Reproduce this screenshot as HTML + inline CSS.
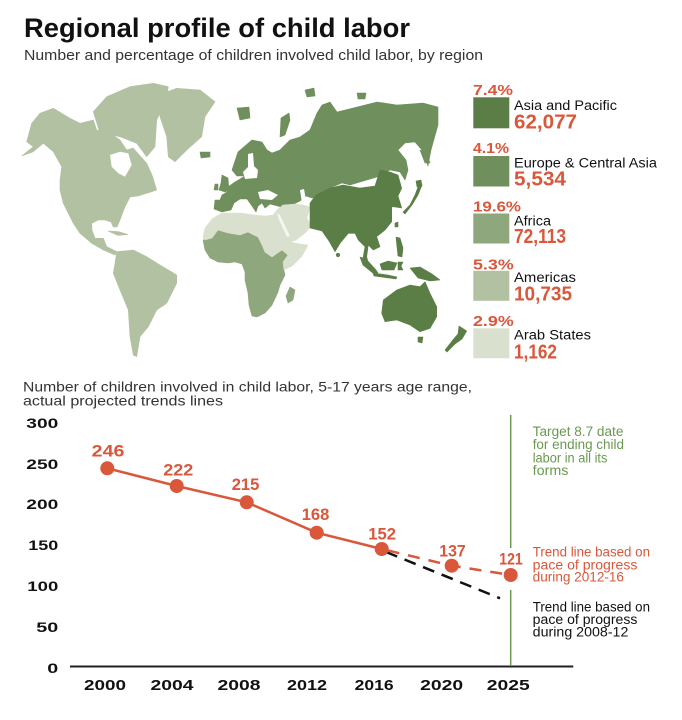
<!DOCTYPE html>
<html><head><meta charset="utf-8"><style>
html,body{margin:0;padding:0;background:#fff;}
svg{display:block;}
text{font-family:"Liberation Sans",sans-serif;}
</style></head><body>
<svg width="682" height="720" viewBox="0 0 682 720" xmlns="http://www.w3.org/2000/svg">
<rect width="682" height="720" fill="#fff"/>
<!-- Title -->
<text x="24" y="37" font-size="27" font-weight="bold" fill="#111" textLength="386" lengthAdjust="spacingAndGlyphs">Regional profile of child labor</text>
<text x="24" y="60" font-size="14.5" fill="#333" textLength="459" lengthAdjust="spacingAndGlyphs">Number and percentage of children involved child labor, by region</text>

<!-- MAP -->
<g stroke-linejoin="round">
<!-- Americas -->
<g fill="#b1c1a1" stroke="#b1c1a1" stroke-width="0.6">
<path d="M21.7,156 L33.3,146.7 L26.7,141.7 L31.7,123.3 L40,113.3 L53.3,108.3 L70,118.3 L80,123.3 L93.3,120 L96.7,130 L110,133.3 L120,140 L126.7,150 L133,148 L146.7,163.3 L152,175 L156.7,190 L151.7,191.7 L138,196 L130,197 L125,206.7 L120,220 L117,227 L113.3,227 L111,222 L105,220 L98.3,220 L91.7,223.3 L92,230 L95,238.3 L103.3,238.3 L106.7,246.7 L116.7,251.7 L115,255 L103.3,250 L91.7,243.3 L80,233.3 L73.3,223.3 L70,216.7 L63.3,203.3 L60,190 L60,180 L61.7,166.7 L53.3,151.7 L43.3,143.3 L33.3,151.7 Z"/>
<path d="M93.3,111.7 L106.7,96.7 L130,86.7 L153.3,83.3 L168.3,86.7 L166.7,100 L156.7,120 L155,146.7 L146.7,156.7 L136.7,143.3 L120,136.7 L100,133.3 Z"/>
<path d="M158.3,95 L176.7,88.3 L200,90 L215,101.7 L205,116.7 L201.7,136.7 L186.7,150 L175,161.7 L168.3,156.7 L166.7,136.7 L160,116.7 Z"/>
<path d="M108,231 L118,231.5 L128,234.5 L118,235.5 Z"/>
<path d="M116.7,251.7 L133.3,250 L146.7,256.7 L160,265 L176.7,275 L176.7,283.3 L166.7,303.3 L156.7,310 L148.3,326.7 L140,336.7 L136.7,356.7 L133.3,355 L130,336.7 L128.3,310 L120,290 L113.3,273.3 L115,263.3 Z"/>
</g>
<!-- Hudson Bay -->
<path d="M110,155 L120,151.7 L128.3,153.3 L131.7,165 L125,176.7 L118.3,173.3 L111.7,166.7 Z" fill="#fff"/>
<!-- Europe & Central Asia -->
<g fill="#6f8f5c" stroke="#6f8f5c" stroke-width="0.6">
<path d="M215,200 L214,209 L222,212 L231,210 L234,203 L240,199 L247,199 L252,206 L256,212 L258,206 L262,203 L265,208 L270,204 L285,208 L292,205 L300,201 L306,196 L312,198 L320,197 L330,188 L342,183 L350,185 L377,177 L390,170 L400,172 L405,180 L408,170 L406,160 L398,150 L405,143 L415,142 L422,150 L428,166 L431,150 L438,125 L438,107 L423,103 L397,105 L377,102 L357,107 L337,112 L330,102 L322,105 L317,113 L310,130 L300,137 L290,140 L280,150 L272,153 L267,150 L262,142 L252,140 L238,152 L232,170 L237,176 L245,176 L235,182 L228,187 L227,192 L222,195 L220,200 Z"/>
<path d="M222,175 L228,178 L229,190 L225,192 L219,190 L221,183 Z"/>
<path d="M215,184 L218,184 L218,190 L214,190 Z"/>
<path d="M200,152 L210,152 L210,157 L201,158 Z"/>
<path d="M237,108 L249,107 L250,118 L240,120 Z"/>
<path d="M281,118 L289,113 L290,120 L285,135 L280,137 Z"/>
<path d="M305,90 L314,88 L315,96 L307,97 Z"/>
<path d="M357,93 L366,93 L365,99 L358,99 Z"/>
<path d="M420,150 L426,152 L430,163 L425,163 Z"/>
</g>
<!-- Baltic & Black Sea -->
<path d="M248,154 L253,153 L254,166 L258,170 L257,178 L245,179 L243,172 L248,167 Z" fill="#fff"/>
<path d="M258,192 L268,190 L278,195 L272,200 L260,199 Z" fill="#fff"/>
<path d="M300,190 L304,189 L306,200 L302,203 Z" fill="#fff"/>
<!-- Sub-Saharan Africa -->
<g fill="#8fa77d" stroke="#8fa77d" stroke-width="0.6">
<path d="M203,240 L212,237 L218,230 L228,233 L240,235 L248,232 L258,237 L262,245 L265,252 L272,257 L276,254 L282,250 L288,255 L283,262 L284,270 L285,275 L280,285 L278,292 L272,305 L265,313 L257,317 L252,316 L249,305 L248,293 L245,280 L245,272 L242,264 L235,262 L228,263 L218,262 L210,258 L205,250 Z"/>
<path d="M290,287 L295,290 L293,300 L288,303 L286,296 Z"/>
</g>
<!-- Arab States -->
<g fill="#d9e0cd" stroke="#d9e0cd" stroke-width="0.6">
<path d="M203,237 L205,228 L212,219 L222,213 L240,213 L255,215 L265,216 L273,215 L277,210 L283,205 L295,204 L303,205 L310,207 L307,218 L311,226 L305,233 L296,240 L290,242 L300,244 L308,245 L302,256 L292,266 L284,270 L283,262 L288,255 L282,250 L276,254 L272,257 L265,252 L262,245 L258,237 L248,232 L240,235 L228,233 L218,230 L212,238 L205,240 Z"/>
</g>
<path d="M277,213 L280,215 L290,236 L287,237 L279,220 Z" fill="#fff" opacity="0.7"/>
<!-- Asia Pacific -->
<g fill="#5b7e46" stroke="#5b7e46" stroke-width="0.6">
<path d="M310,203 L316,195 L330,188 L343,185 L360,188 L375,186 L380,170 L390,172 L398,175 L401.7,188.3 L398,196 L401.7,208 L395,207 L391.7,206.7 L391.7,221.7 L385,230 L376.7,236.7 L380,246.7 L373.3,250 L368.3,245 L366.7,256.7 L368,262 L363,258 L365,246.7 L358.3,240 L355,233.3 L348.3,233.3 L340,243.3 L335,251.7 L329,241 L322,231 L310,228 Z"/>
<path d="M403,212 L410,205 L415,195 L418,187 L420,182 L422,185 L418,195 L412,205 L405,214 Z"/>
<path d="M416,181 L421,180 L422,186 L417,187 Z"/>
<path d="M395,223 L398,222 L398,227 L395,227 Z"/>
<path d="M396,237 L400,238 L403,248 L402,257 L398,256 L397,247 Z"/>
<path d="M360,257 L366,259 L376,270 L378,273 L374,274 L363,265 Z"/>
<path d="M373,273 L388,275 L397,277 L396,279 L374,276 Z"/>
<path d="M380,264 L388,261 L397,263 L394,270 L382,270 Z"/>
<path d="M398,262 L403,262 L401,266 L403,270 L398,270 Z"/>
<path d="M410,268 L420,267 L432,274 L440,280 L430,281 L418,278 Z"/>
<path d="M383.3,300 L396.7,290 L410,285 L420,286.7 L425,281.7 L430,293.3 L436.7,306.7 L436.7,316.7 L430,328.3 L420,331.7 L410,325 L396.7,320 L385,321.7 L381.7,313.3 Z"/>
<path d="M418,337 L423,337 L422,343 L418,342 Z"/>
<path d="M459,326 L466.7,331 L462,339 L455,344 L447,352 L445,350 L452,341 L458,334 Z"/>
<circle cx="338" cy="255" r="1.8"/>
</g>
</g>

<!-- LEGEND -->
<g>
<text x="473" y="95" font-size="15" font-weight="bold" fill="#d9573b" textLength="40" lengthAdjust="spacingAndGlyphs">7.4%</text>
<rect x="473.3" y="97.3" width="36" height="31" fill="#5b7e46"/>
<text x="514" y="110" font-size="13.5" fill="#111" textLength="103" lengthAdjust="spacingAndGlyphs">Asia and Pacific</text>
<text x="514" y="128.5" font-size="20" font-weight="bold" fill="#d9573b" textLength="63" lengthAdjust="spacingAndGlyphs">62,077</text>

<text x="473" y="153" font-size="15" font-weight="bold" fill="#d9573b" textLength="36" lengthAdjust="spacingAndGlyphs">4.1%</text>
<rect x="473.3" y="156" width="36" height="30.5" fill="#6f8f5c"/>
<text x="514" y="167.5" font-size="13.5" fill="#111" textLength="143" lengthAdjust="spacingAndGlyphs">Europe &amp; Central Asia</text>
<text x="514" y="185.5" font-size="20" font-weight="bold" fill="#d9573b" textLength="52" lengthAdjust="spacingAndGlyphs">5,534</text>

<text x="473" y="211.5" font-size="15" font-weight="bold" fill="#d9573b" textLength="48" lengthAdjust="spacingAndGlyphs">19.6%</text>
<rect x="473.3" y="213.5" width="36" height="30" fill="#8fa77d"/>
<text x="514" y="225.5" font-size="13.5" fill="#111" textLength="37" lengthAdjust="spacingAndGlyphs">Africa</text>
<text x="514" y="243" font-size="20" font-weight="bold" fill="#d9573b" textLength="52" lengthAdjust="spacingAndGlyphs">72,113</text>

<text x="473" y="269.3" font-size="15" font-weight="bold" fill="#d9573b" textLength="40.7" lengthAdjust="spacingAndGlyphs">5.3%</text>
<rect x="473.3" y="270.8" width="36" height="30" fill="#b1c1a1"/>
<text x="514" y="282" font-size="13.5" fill="#111" textLength="62" lengthAdjust="spacingAndGlyphs">Americas</text>
<text x="514" y="300.7" font-size="20" font-weight="bold" fill="#d9573b" textLength="58" lengthAdjust="spacingAndGlyphs">10,735</text>

<text x="473" y="326" font-size="15" font-weight="bold" fill="#d9573b" textLength="40.7" lengthAdjust="spacingAndGlyphs">2.9%</text>
<rect x="473.3" y="328.3" width="36" height="30" fill="#d9e0cd"/>
<text x="514" y="339.5" font-size="13.5" fill="#111" textLength="77" lengthAdjust="spacingAndGlyphs">Arab States</text>
<text x="514" y="358.3" font-size="20" font-weight="bold" fill="#d9573b" textLength="43" lengthAdjust="spacingAndGlyphs">1,162</text>
</g>

<!-- CHART -->
<text x="23" y="391.7" font-size="14" fill="#333" textLength="449" lengthAdjust="spacingAndGlyphs">Number of children involved in child labor, 5-17 years age range,</text>
<text x="23" y="405.5" font-size="14" fill="#333" textLength="200" lengthAdjust="spacingAndGlyphs">actual projected trends lines</text>

<g font-size="14" font-weight="bold" fill="#111" text-anchor="end">
<text x="58.3" y="428" textLength="32" lengthAdjust="spacingAndGlyphs">300</text>
<text x="58.3" y="469" textLength="32" lengthAdjust="spacingAndGlyphs">250</text>
<text x="58.3" y="509" textLength="32" lengthAdjust="spacingAndGlyphs">200</text>
<text x="58.3" y="550" textLength="30" lengthAdjust="spacingAndGlyphs">150</text>
<text x="58.3" y="591" textLength="31" lengthAdjust="spacingAndGlyphs">100</text>
<text x="58.3" y="632" textLength="22" lengthAdjust="spacingAndGlyphs">50</text>
<text x="58.3" y="673" textLength="11" lengthAdjust="spacingAndGlyphs">0</text>
</g>

<!-- axis -->
<line x1="70" y1="666.5" x2="573.3" y2="666.5" stroke="#222" stroke-width="2"/>

<!-- target line -->
<line x1="510.7" y1="415" x2="510.7" y2="548" stroke="#6a9a50" stroke-width="1.5"/>
<line x1="510.7" y1="590" x2="510.7" y2="666" stroke="#6a9a50" stroke-width="1.5"/>

<!-- black dashed -->
<line x1="386" y1="552" x2="500" y2="598.3" stroke="#111" stroke-width="2.5" stroke-dasharray="12 8"/>
<!-- red dashed -->
<polyline points="381.7,549 451.7,565.7 510.7,575" fill="none" stroke="#d9573b" stroke-width="2.5" stroke-dasharray="12 9" stroke-dashoffset="-6"/>
<!-- red solid -->
<polyline points="107.3,468.3 176.7,486 246.7,502.3 316.7,532.7 381.7,549" fill="none" stroke="#d9573b" stroke-width="2.5"/>
<g fill="#d9573b">
<circle cx="107.3" cy="468.3" r="7"/>
<circle cx="176.7" cy="486" r="7"/>
<circle cx="246.7" cy="502.3" r="7"/>
<circle cx="316.7" cy="532.7" r="7"/>
<circle cx="381.7" cy="549" r="7"/>
<circle cx="451.7" cy="565.7" r="7"/>
<circle cx="510.7" cy="575" r="7"/>
</g>
<g font-size="17" font-weight="bold" fill="#d9573b">
<text x="91.7" y="456.7" textLength="32.7" lengthAdjust="spacingAndGlyphs">246</text>
<text x="163.3" y="475.7" textLength="30" lengthAdjust="spacingAndGlyphs">222</text>
<text x="231.7" y="490" textLength="27.7" lengthAdjust="spacingAndGlyphs">215</text>
<text x="301.7" y="520" textLength="27.6" lengthAdjust="spacingAndGlyphs">168</text>
<text x="368.3" y="539.3" textLength="27.7" lengthAdjust="spacingAndGlyphs">152</text>
<text x="439.3" y="556.7" textLength="26.4" lengthAdjust="spacingAndGlyphs">137</text>
<text x="499.3" y="564.3" textLength="23.4" lengthAdjust="spacingAndGlyphs">121</text>
</g>

<g font-size="15" font-weight="bold" fill="#111" text-anchor="middle">
<text x="105" y="690" textLength="42" lengthAdjust="spacingAndGlyphs">2000</text>
<text x="172" y="690" textLength="43" lengthAdjust="spacingAndGlyphs">2004</text>
<text x="239" y="690" textLength="43" lengthAdjust="spacingAndGlyphs">2008</text>
<text x="307" y="690" textLength="40" lengthAdjust="spacingAndGlyphs">2012</text>
<text x="374.2" y="690" textLength="39" lengthAdjust="spacingAndGlyphs">2016</text>
<text x="441.7" y="690" textLength="43" lengthAdjust="spacingAndGlyphs">2020</text>
<text x="508.3" y="690" textLength="43" lengthAdjust="spacingAndGlyphs">2025</text>
</g>

<g font-size="13.5" fill="#6a9a50">
<text x="532.7" y="436" textLength="90.7" lengthAdjust="spacingAndGlyphs">Target 8.7 date</text>
<text x="532.7" y="449" textLength="91.3" lengthAdjust="spacingAndGlyphs">for ending child</text>
<text x="532.7" y="462.3" textLength="74.7" lengthAdjust="spacingAndGlyphs">labor in all its</text>
<text x="532.7" y="475" textLength="35.7" lengthAdjust="spacingAndGlyphs">forms</text>
</g>
<g font-size="13.5" fill="#d9573b">
<text x="532.7" y="556.7" textLength="117.3" lengthAdjust="spacingAndGlyphs">Trend line based on</text>
<text x="532.7" y="569.3" textLength="104.7" lengthAdjust="spacingAndGlyphs">pace of progress</text>
<text x="532.7" y="581.7" textLength="91.3" lengthAdjust="spacingAndGlyphs">during 2012-16</text>
</g>
<g font-size="13.5" fill="#111">
<text x="532.7" y="611.7" textLength="117.3" lengthAdjust="spacingAndGlyphs">Trend line based on</text>
<text x="532.7" y="624" textLength="104.7" lengthAdjust="spacingAndGlyphs">pace of progress</text>
<text x="532.7" y="636.7" textLength="95.7" lengthAdjust="spacingAndGlyphs">during 2008-12</text>
</g>
</svg>
</body></html>
